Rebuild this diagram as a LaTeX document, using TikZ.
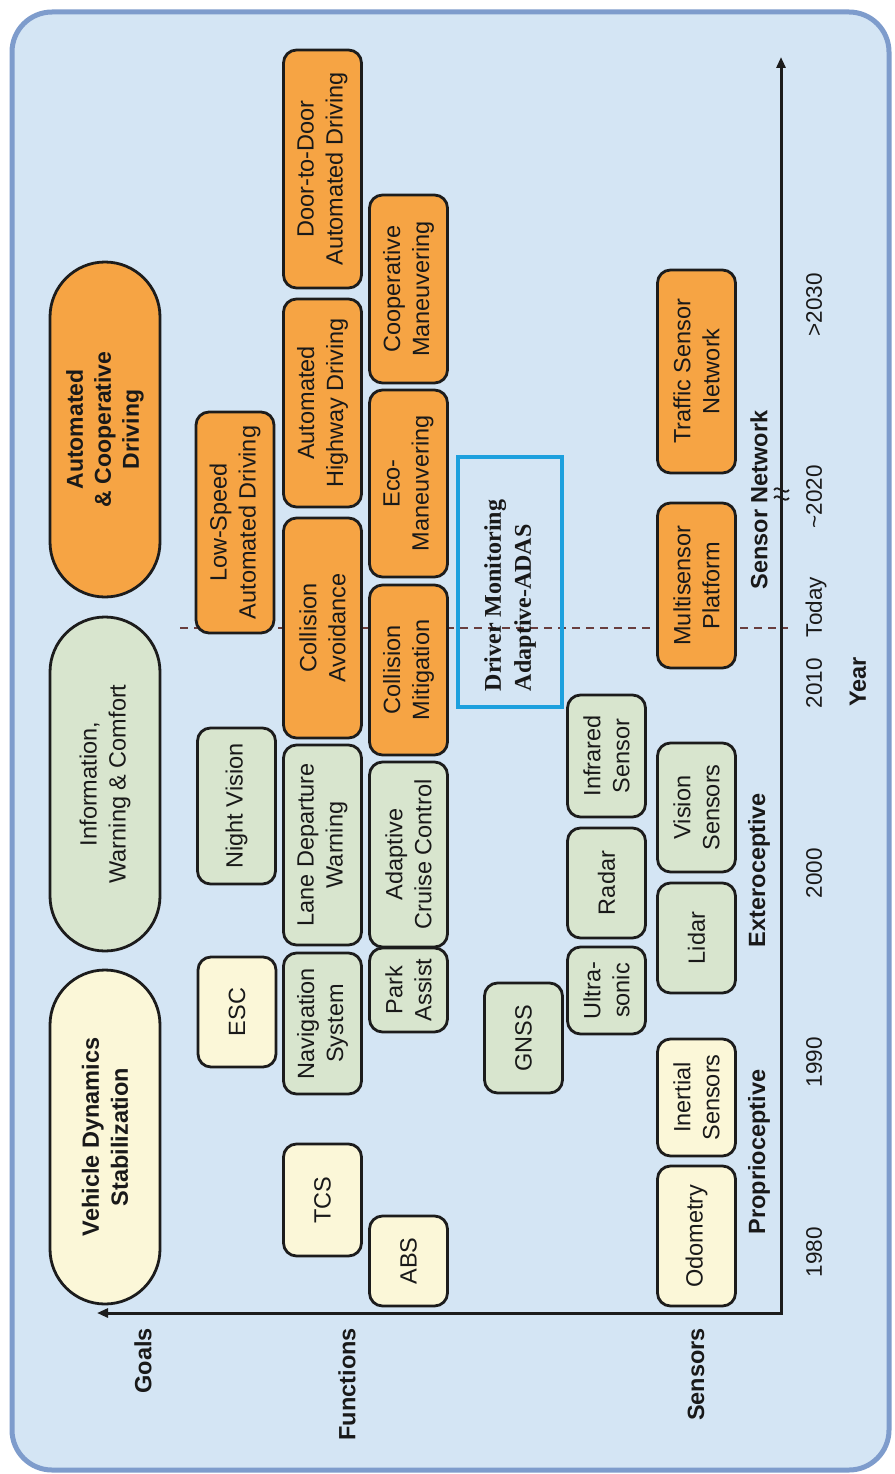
\documentclass[tikz,border=0pt]{standalone}
\usepackage{fontspec}
\setmainfont{Liberation Sans}
\newfontfamily\dmfont{Liberation Serif}
\usetikzlibrary{arrows.meta}
\definecolor{bgc}{RGB}{212,229,244}
\definecolor{borderc}{RGB}{126,156,204}
\definecolor{creamc}{RGB}{251,247,216}
\definecolor{greenc}{RGB}{216,229,206}
\definecolor{orangec}{RGB}{246,164,68}
\definecolor{linec}{RGB}{28,28,28}
\definecolor{bluec}{RGB}{28,160,222}
\definecolor{dashc}{RGB}{105,62,62}
\definecolor{textc}{RGB}{25,25,25}
\begin{document}
\begin{tikzpicture}[x=1pt,y=-1pt,
  box/.style={rotate=90, draw=linec, line width=2.8pt, rounded corners=13pt, align=center,
    inner sep=0pt, minimum height=78pt, text=textc, font=\fontsize{23.5pt}{29pt}\selectfont},
  cream/.style={box, fill=creamc},
  green/.style={box, fill=greenc},
  orange/.style={box, fill=orangec},
  pill/.style={rotate=90, draw=linec, line width=2.8pt, rounded corners=55pt, align=center,
    inner sep=0pt, minimum height=110pt, text=textc},
  lab/.style={rotate=90, inner sep=0pt, text=textc, font=\bfseries\fontsize{23.5pt}{28pt}\selectfont},
  yr/.style={rotate=90, inner sep=0pt, text=textc, font=\fontsize{22.5pt}{27pt}\selectfont},
  axisline/.style={draw=linec, line width=3pt, {Triangle[length=11pt,width=9pt]}-{Triangle[length=11pt,width=9pt]}},
  todayline/.style={draw=dashc, line width=1.8pt, dash pattern=on 8pt off 6pt},
  breakmark/.style={draw=linec, line width=1.8pt}
]
\useasboundingbox (0,0) rectangle (894,1474);
\fill[white] (0,0) rectangle (894,1474);
\draw[draw=borderc, fill=bgc, line width=5pt, rounded corners=40pt] (12,12) rectangle (889,1470);

% today dashed line (behind boxes)
\coordinate (todayA) at (180,628);
\coordinate (todayB) at (788,628);
\draw[todayline] (todayA) -- (todayB);

% goals
\node[pill, fill=creamc, minimum width=334pt, font=\bfseries\fontsize{23.5pt}{29pt}\selectfont] (vds) at (105,1137) {Vehicle Dynamics\\Stabilization};
\node[pill, fill=greenc, minimum width=334pt, font=\fontsize{23.5pt}{29pt}\selectfont] (iwc) at (105,784) {Information,\\Warning \& Comfort};
\node[pill, fill=orangec, minimum width=335pt, font=\bfseries\fontsize{23pt}{28pt}\selectfont] (acd) at (105,429.5) {Automated\\\& Cooperative\\Driving};

% functions
\node[cream, minimum width=90pt] (abs) at (408.5,1261) {ABS};
\node[cream, minimum width=112pt] (tcs) at (322.5,1200) {TCS};
\node[cream, minimum width=110pt] (esc) at (237,1012) {ESC};
\node[green, minimum width=141pt] (nav) at (322.5,1023.5) {Navigation\\System};
\node[green, minimum width=84pt] (park) at (408.5,990) {Park\\Assist};
\node[green, minimum width=200pt] (ldw) at (322.5,845) {Lane Departure\\Warning};
\node[green, minimum width=185pt] (acc) at (408.5,854.5) {Adaptive\\Cruise Control};
\node[green, minimum width=156pt] (nv) at (236.5,806) {Night Vision};
\node[orange, minimum width=220pt] (ca) at (322.5,628) {Collision\\Avoidance};
\node[orange, minimum width=170pt] (cm) at (408.5,670) {Collision\\Mitigation};
\node[orange, minimum width=221pt] (lsad) at (235,522.5) {Low-Speed\\Automated Driving};
\node[orange, minimum width=187pt] (eco) at (408.5,483.5) {Eco-\\Maneuvering};
\node[orange, minimum width=208pt] (ahd) at (322.5,403) {Automated\\Highway Driving};
\node[orange, minimum width=188pt] (coop) at (408.5,289) {Cooperative\\Maneuvering};
\node[orange, minimum width=238pt] (d2d) at (322.5,169) {Door-to-Door\\Automated Driving};

% driver monitoring box
\node[rotate=90, draw=bluec, line width=4.5pt, minimum width=250pt, minimum height=104pt,
  inner xsep=16pt, inner ysep=0pt, text width=218pt, align=flush left, text=textc,
  font=\dmfont\bfseries\fontsize{24pt}{30pt}\selectfont] (dm) at (510,582) {Driver Monitoring\\Adaptive-ADAS};

% sensors
\node[green, minimum width=110pt] (gnss) at (523.5,1038) {GNSS};
\node[green, minimum width=87pt] (ultra) at (606.5,990.5) {Ultra-\\sonic};
\node[green, minimum width=110pt] (radar) at (606.5,883) {Radar};
\node[green, minimum width=122pt] (ir) at (606.5,756) {Infrared\\Sensor};
\node[green, minimum width=110pt] (lidar) at (696.5,938) {Lidar};
\node[green, minimum width=129pt] (vision) at (696.5,807.5) {Vision\\Sensors};
\node[cream, minimum width=140pt] (odo) at (696.5,1236) {Odometry};
\node[cream, minimum width=117pt] (inert) at (696.5,1097.5) {Inertial\\Sensors};
\node[orange, minimum width=165pt] (multi) at (696.5,585.5) {Multisensor\\Platform};
\node[orange, minimum width=203pt] (traffic) at (696.5,371.5) {Traffic Sensor\\Network};

% axes
\coordinate (origin) at (781,1313);
\coordinate (goalsend) at (97,1313);
\coordinate (yearend) at (781,57);
\draw[axisline] (goalsend) -- (origin) -- (yearend);
\draw[breakmark] (774,490) .. controls (778,484) and (784,496) .. (789,490);
\draw[breakmark] (774,498) .. controls (778,492) and (784,504) .. (789,498);

% axis labels
\node[lab, anchor=east] (goals) at (143,1328) {Goals};
\node[lab, anchor=east] (functions) at (347,1328) {Functions};
\node[lab, anchor=east] (sensors) at (696,1328) {Sensors};
\node[lab] (proprio) at (759,1152) {Proprioceptive};
\node[lab] (extero) at (759,870) {Exteroceptive};
\node[lab] (sensnet) at (759,500) {Sensor Network};

% years
\node[yr] (y1980) at (814,1252) {1980};
\node[yr] (y1990) at (814,1062) {1990};
\node[yr] (y2000) at (814,873) {2000};
\node[yr] (y2010) at (814,683) {2010};
\node[yr] (ytoday) at (816,607) {Today};
\node[yr] (y2020) at (814,497) {\textasciitilde2020};
\node[yr] (y2030) at (814,305) {>2030};
\node[lab] (year) at (858,682) {Year};
\end{tikzpicture}
\end{document}
